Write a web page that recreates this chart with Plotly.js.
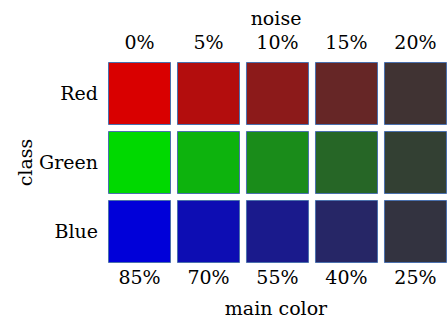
<!DOCTYPE html>
<html><head><meta charset="utf-8">
<script src="https://cdn.plot.ly/plotly-3.0.1.min.js"></script>
<style>html,body{margin:0;padding:0;background:#fff;}#chart{width:447px;height:319px;}</style>
</head><body><div id="chart"></div>
<script>
const classes = ['Red', 'Green', 'Blue'];
const noiseLabels = ['0%', '5%', '10%', '15%', '20%'];
const mainLabels = ['85%', '70%', '55%', '40%', '25%'];
const noiseValues = [0, 5, 10, 15, 20];
const mainValues = [85, 70, 55, 40, 25];

const xs = [], ys = [], cols = [];
classes.forEach((c, ci) => {
  noiseValues.forEach((n, ni) => {
    const m = mainValues[ni];
    const ch = [n, n, n].map(v => Math.round(v / 100 * 255));
    ch[ci] = Math.round(m / 100 * 255);
    xs.push(ni); ys.push(ci);
    cols.push('rgb(' + ch.join(',') + ')');
  });
});

const font = {family: 'DejaVu Serif, Liberation Serif, Times New Roman, serif', size: 19, color: '#000'};
const data = [
  {type: 'scatter', mode: 'markers', x: xs, y: ys, cliponaxis: false, hoverinfo: 'none',
   marker: {symbol: 'square', size: 62, color: cols, line: {color: '#4a70ad', width: 1}}, showlegend: false},
  {type: 'scatter', mode: 'markers', x: [0, 4], y: [0, 0], xaxis: 'x2', marker: {opacity: 0}, hoverinfo: 'none', showlegend: false}
];
const xr = [-0.5, 4.457];
const layout = {
  width: 447, height: 319,
  margin: {l: 105, r: 0, t: 59, b: 53},
  paper_bgcolor: '#fff', plot_bgcolor: '#fff',
  font: font,
  xaxis: {range: xr, tickvals: noiseValues.map((_, i) => i), ticktext: mainLabels, showgrid: false, zeroline: false,
          showline: false, ticks: '', tickfont: font, ticklabelstandoff: -2,
          title: {text: 'main color', font: font, standoff: 15}},
  xaxis2: {range: xr, overlaying: 'x', side: 'top', tickvals: noiseValues.map((_, i) => i), ticktext: noiseLabels,
           showgrid: false, zeroline: false, showline: false, ticks: '', tickfont: font, ticklabelstandoff: 5,
           title: {text: 'noise', font: font, standoff: 0}},
  yaxis: {range: [2.5, -0.5], tickvals: classes.map((_, i) => i), ticktext: classes, showgrid: false, zeroline: false,
          showline: false, ticks: '', tickfont: font, ticklabelstandoff: 6, title: {text: 'class', font: font, standoff: 1}}
};
Plotly.newPlot('chart', data, layout, {displayModeBar: false, staticPlot: true});
</script></body></html>
